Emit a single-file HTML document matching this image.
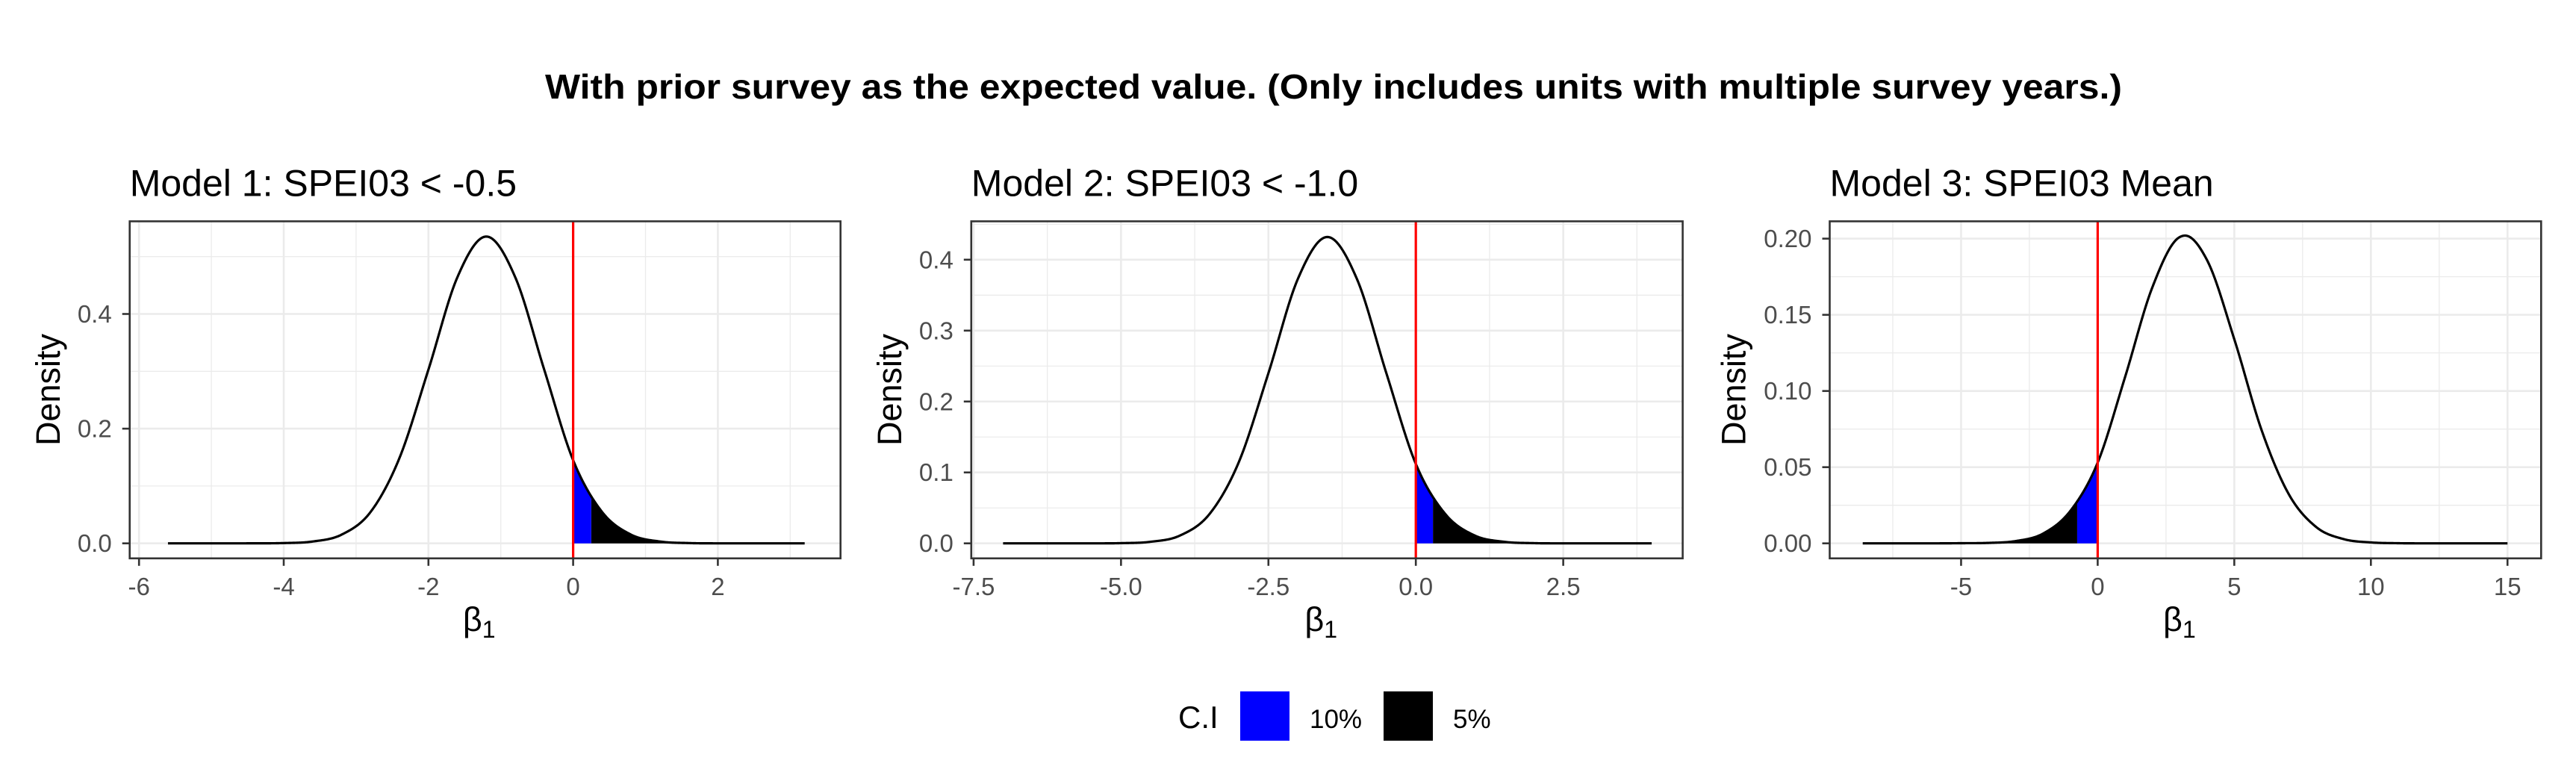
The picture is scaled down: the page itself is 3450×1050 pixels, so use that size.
<!DOCTYPE html>
<html><head><meta charset="utf-8">
<style>
html,body{margin:0;padding:0;background:#fff;}
svg{display:block;font-family:"Liberation Sans",Arial,sans-serif;}
</style></head>
<body>
<svg id="chart" width="3450" height="1050" viewBox="0 0 3450 1050" xmlns="http://www.w3.org/2000/svg">
<rect x="0" y="0" width="3450" height="1050" fill="#fff"/>
<text x="1786" y="132" font-size="46" font-weight="bold" text-anchor="middle" textLength="2112" lengthAdjust="spacingAndGlyphs">With prior survey as the expected value. (Only includes units with multiple survey years.)</text>
<g id="panels"></g>
<g>
  <text x="1578" y="975" font-size="42">C.I</text>
  <rect x="1661" y="926" width="66" height="66" fill="#0000ff"/>
  <text x="1754" y="975" font-size="35">10%</text>
  <rect x="1853" y="926" width="66" height="66" fill="#000"/>
  <text x="1946" y="975" font-size="35">5%</text>
</g>
</svg>
<script>
// ---- Panel 1 data ----
const p1Title = "Model 1: SPEI03 < -0.5";
const p1X = [-5.6,-4.8,-4.4,-4.0,-3.6,-3.2,-2.8,-2.4,-2.0,-1.6,-1.2,-0.8,-0.4,0,0.4,0.8,1.2,1.6,2.0,3.2];
const p1Y = [0,0,0.0001,0.0005,0.0032,0.0152,0.0547,0.149,0.303,0.464,0.535,0.464,0.303,0.145,0.0547,0.0152,0.0032,0.0005,0,0];
const p1XTicks = [-6,-4,-2,0,2];
const p1XTickLabels = ["-6","-4","-2","0","2"];
const p1YTicks = [0,0.2,0.4];
const p1YTickLabels = ["0.0","0.2","0.4"];
const p1Blue = [0,0.25];
const p1Black = [0.25,1.6];

// ---- Panel 2 data ----
const p2Title = "Model 2: SPEI03 < -1.0";
const p2X = [-7,-5.5,-5,-4.5,-4,-3.5,-3,-2.5,-2,-1.5,-1,-0.5,0,0.5,1,1.5,2,2.5,4];
const p2Y = [0,0,0.0003,0.0022,0.011,0.0413,0.115,0.240,0.373,0.432,0.373,0.240,0.112,0.0413,0.011,0.0022,0.0003,0,0];
const p2XTicks = [-7.5,-5,-2.5,0,2.5];
const p2XTickLabels = ["-7.5","-5.0","-2.5","0.0","2.5"];
const p2YTicks = [0,0.1,0.2,0.3,0.4];
const p2YTickLabels = ["0.0","0.1","0.2","0.3","0.4"];
const p2Blue = [0,0.29];
const p2Black = [0.29,2.0];

// ---- Panel 3 data ----
const p3Title = "Model 3: SPEI03 Mean";
const p3X = [-8.6,-6,-5,-4,-3,-2,-1,0,1,2,3,3.2,4,5,6,7,8,9,10,11,12,15];
const p3Y = [0,0,0.0001,0.0003,0.0015,0.0064,0.0213,0.053,0.109,0.168,0.201,0.202,0.186,0.134,0.0743,0.0321,0.0107,0.0028,0.0006,0.0001,0,0];
const p3XTicks = [-5,0,5,10,15];
const p3XTickLabels = ["-5","0","5","10","15"];
const p3YTicks = [0,0.05,0.1,0.15,0.2];
const p3YTickLabels = ["0.00","0.05","0.10","0.15","0.20"];
const p3Blue = [-0.75,0];
const p3Black = [-8.6,-0.75];

const NS = "http://www.w3.org/2000/svg";
function mk(tag, attrs, parent){
  const e = document.createElementNS(NS, tag);
  for (const k in attrs) e.setAttribute(k, attrs[k]);
  if (parent) parent.appendChild(e);
  return e;
}
// smooth cubic Hermite interpolation with centered slopes
function makeInterp(xs, ys){
  const n = xs.length, m = new Array(n);
  m[0]=(ys[1]-ys[0])/(xs[1]-xs[0]);
  m[n-1]=(ys[n-1]-ys[n-2])/(xs[n-1]-xs[n-2]);
  for (let i=1;i<n-1;i++){
    const h0=xs[i]-xs[i-1], h1=xs[i+1]-xs[i];
    const d0=(ys[i]-ys[i-1])/h0, d1=(ys[i+1]-ys[i])/h1;
    m[i]=(d0*h1+d1*h0)/(h0+h1);
  }
  return function(x){
    if (x<=xs[0]) return ys[0];
    if (x>=xs[n-1]) return ys[n-1];
    let i=0; while (x>xs[i+1]) i++;
    const h=xs[i+1]-xs[i], t=(x-xs[i])/h, t2=t*t, t3=t2*t;
    const v=(2*t3-3*t2+1)*ys[i]+(t3-2*t2+t)*h*m[i]+(-2*t3+3*t2)*ys[i+1]+(t3-t2)*h*m[i+1];
    return Math.max(0,v);
  };
}

const panels = [
  {id:"model-1", title:p1Title, xs:p1X, ys:p1Y, xt:p1XTicks, xtl:p1XTickLabels, yt:p1YTicks, ytl:p1YTickLabels, blue:p1Blue, black:p1Black,
   box:[173.7,296.4,1125.7,747.8], x0px:767.6, xUnit:96.9, y0px:727.7, yUnit:307.2/0.4, xMinorStep:1, yMinorStep:0.1, densX:65},
  {id:"model-2", title:p2Title, xs:p2X, ys:p2Y, xt:p2XTicks, xtl:p2XTickLabels, yt:p2YTicks, ytl:p2YTickLabels, blue:p2Blue, black:p2Black,
   box:[1300.8,296.4,2253.6,747.8], x0px:1896.2, xUnit:78.97, y0px:727.7, yUnit:379.9/0.4, xMinorStep:1.25, yMinorStep:0.05, densX:1192},
  {id:"model-3", title:p3Title, xs:p3X, ys:p3Y, xt:p3XTicks, xtl:p3XTickLabels, yt:p3YTicks, ytl:p3YTickLabels, blue:p3Blue, black:p3Black,
   box:[2450.5,296.4,3403.3,747.8], x0px:2809.4, xUnit:36.59, y0px:727.7, yUnit:408.1/0.2, xMinorStep:2.5, yMinorStep:0.025, densX:2322.7}
];

const root = document.getElementById("panels");
panels.forEach(p=>{
  const sx = v => p.x0px + v*p.xUnit;
  const sy = v => p.y0px - v*p.yUnit;
  const [L,T,R,B] = p.box;
  const g = mk("g", {}, root);
  
  

  const t = mk("text", {x:L, y:262.5, "font-size":50, fill:"#000"}, g);
  t.textContent = p.title;
  
  

  mk("rect", {x:L, y:T, width:R-L, height:B-T, fill:"#fff"}, g);
  const grid = mk("g", {}, g);
  
  
  const xMin=(L-p.x0px)/p.xUnit, xMax=(R-p.x0px)/p.xUnit;
  const yMin=(p.y0px-B)/p.yUnit, yMax=(p.y0px-T)/p.yUnit;
  for (let v=Math.ceil(xMin/p.xMinorStep)*p.xMinorStep; v<=xMax; v+=p.xMinorStep){
    const isMajor = p.xt.some(m=>Math.abs(m-v)<1e-6);
    mk("line",{x1:sx(v),x2:sx(v),y1:T,y2:B,stroke:"#ebebeb","stroke-width":isMajor?2.6:1.3},grid);
  }
  for (let v=Math.ceil(yMin/p.yMinorStep)*p.yMinorStep; v<=yMax; v+=p.yMinorStep){
    const isMajor = p.yt.some(m=>Math.abs(m-v)<1e-6);
    mk("line",{x1:L,x2:R,y1:sy(v),y2:sy(v),stroke:"#ebebeb","stroke-width":isMajor?2.6:1.3},grid);
  }

  const f = makeInterp(p.xs, p.ys);
  function area(a,b,color,name){
    let d = "M"+sx(a)+","+sy(0);
    const N=120;
    for (let i=0;i<=N;i++){ const x=a+(b-a)*i/N; d+=" L"+sx(x).toFixed(2)+","+sy(f(x)).toFixed(2); }
    d += " L"+sx(b)+","+sy(0)+" Z";
    const el = mk("path",{d:d, fill:color},g);
    
    
  }
  area(p.black[0], p.black[1], "#000", p.id + '-ci-5pct-area');
  area(p.blue[0], p.blue[1], "#0000ff", p.id + '-ci-10pct-area');

  let d="";
  const x0=p.xs[0], x1=p.xs[p.xs.length-1], N=800;
  for (let i=0;i<=N;i++){ const x=x0+(x1-x0)*i/N; d+=(i?" L":"M")+sx(x).toFixed(2)+","+sy(f(x)).toFixed(2); }
  const curve = mk("path",{d:d, fill:"none", stroke:"#000", "stroke-width":3.2, "stroke-linejoin":"round"},g);
  
  

  const vl = mk("line",{x1:sx(0),x2:sx(0),y1:T,y2:B,stroke:"#ff0000","stroke-width":3.2},g);
  
  

  const border = mk("rect",{x:L,y:T,width:R-L,height:B-T,fill:"none",stroke:"#333","stroke-width":2.6},g);
  
  

  const xa = mk("g",{},g);
  
  
  p.xt.forEach((v,i)=>{
    mk("line",{x1:sx(v),x2:sx(v),y1:B,y2:B+10,stroke:"#333","stroke-width":2.6},xa);
    const tl = mk("text",{x:sx(v),y:797,"font-size":33,fill:"#4d4d4d","text-anchor":"middle"},xa);
    tl.textContent = p.xtl[i];
    
    
  });
  const ya = mk("g",{},g);
  
  
  p.yt.forEach((v,i)=>{
    mk("line",{x1:L-10,x2:L,y1:sy(v),y2:sy(v),stroke:"#333","stroke-width":2.6},ya);
    const tl = mk("text",{x:L-24,y:sy(v)+11.5,"font-size":33,fill:"#4d4d4d","text-anchor":"end"},ya);
    tl.textContent = p.ytl[i];
    
    
  });

  const xt = mk("text",{x:(L+R)/2-8,y:845,"font-size":45,fill:"#000","text-anchor":"middle"},g);
  
  
  const beta = mk("tspan",{},xt); beta.textContent="β";
  const sub = mk("tspan",{"font-size":32,dy:9}, xt); sub.textContent="1";

  const yt = mk("text",{x:p.densX+15,y:522,"font-size":45,fill:"#000","text-anchor":"middle",transform:"rotate(-90 "+(p.densX+15)+" 522)"},g);
  yt.textContent = "Density";
  
  
});
</script>
</body></html>
